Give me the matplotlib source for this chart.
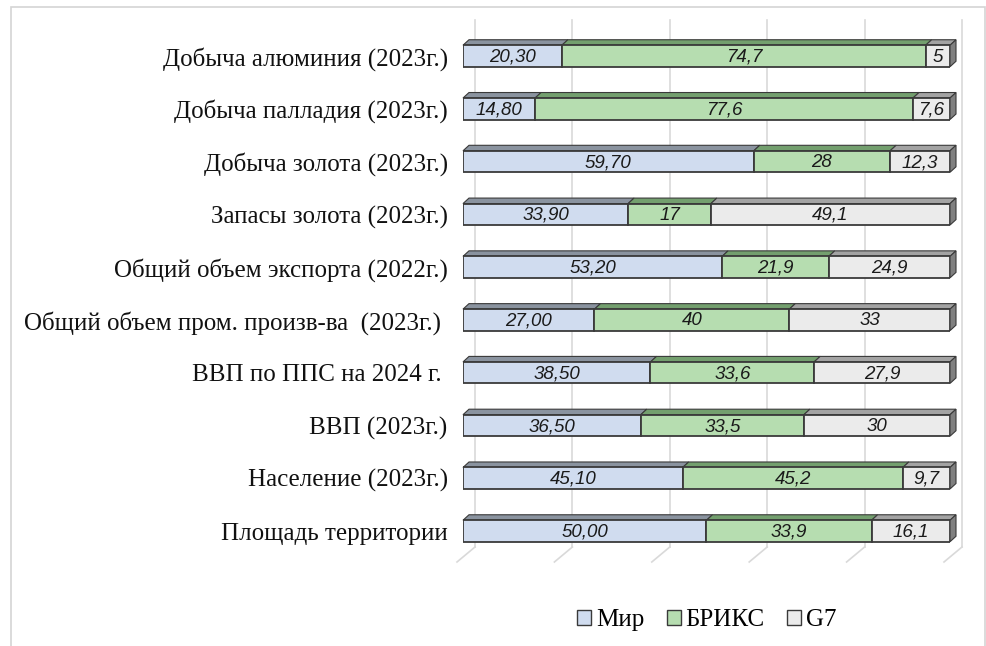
import matplotlib.pyplot as plt
from matplotlib.patches import Polygon, Rectangle, Patch

# data (shares, %)
categories = [
    "Добыча алюминия (2023г.)",
    "Добыча палладия (2023г.)",
    "Добыча золота (2023г.)",
    "Запасы золота (2023г.)",
    "Общий объем экспорта (2022г.)",
    "Общий объем пром. произв-ва  (2023г.) ",
    "ВВП по ППС на 2024 г. ",
    "ВВП (2023г.)",
    "Население (2023г.)",
    "Площадь территории",
]
mir = [20.30, 14.80, 59.70, 33.90, 53.20, 27.00, 38.50, 36.50, 45.10, 50.00]
brics = [74.7, 77.6, 28, 17, 21.9, 40, 33.6, 33.5, 45.2, 33.9]
g7 = [5, 7.6, 12.3, 49.1, 24.9, 33, 27.9, 30, 9.7, 16.1]
series_names = ["Мир", "БРИКС", "G7"]
ticks = [0, 20, 40, 60, 80, 100]

# colours: front face, top face, side face
faces = ["#d0dcef", "#b6ddb0", "#ebebeb"]
tops = ["#8a939f", "#739f6e", "#a3a3a3"]
sides = ["#6f7a88", "#5d8a58", "#808080"]
edge = "#3a3a3a"

W, H = 987, 646
fig = plt.figure(figsize=(W / 100, H / 100), dpi=100)

# outer frame
fig.patches.append(Rectangle((11 / W, -0.01), (985 - 11) / W, 1 - 7 / H + 0.01,
                             transform=fig.transFigure, fill=False,
                             edgecolor="#d4d4d4", linewidth=1.2))

# axes: x 0..100 -> px 463..950, rows centred at 56 + 52.8*i
x0, x1 = 463, 950
ytop, ybot = 56 - 26.4, 531 + 26.4
ax = fig.add_axes([x0 / W, 1 - ybot / H, (x1 - x0) / W, (ybot - ytop) / H])
ax.set_xlim(0, 100)
ax.set_ylim(len(categories) - 0.5, -0.5)
for s in ax.spines.values():
    s.set_visible(False)
ax.set_xticks([])

pxx = (x1 - x0) / 100.0
pxy = (ybot - ytop) / len(categories)
dx, dy = 6 / pxx, 5.5 / pxy          # bar depth
bh = 21.5 / pxy                       # bar face height

# wall & floor gridlines
back_dx, front_dx = 12 / pxx, -6 / pxx
y_wall_top = (20 - 56) / pxy
y_floor_back = (547 - 56) / pxy
y_floor_front = (562 - 56) / pxy
for t in ticks:
    ax.plot([t + back_dx, t + back_dx], [y_wall_top, y_floor_back],
            color="#d9d9d9", lw=1.2, zorder=0, clip_on=False)
    ax.plot([t + back_dx, t + front_dx], [y_floor_back, y_floor_front],
            color="#d9d9d9", lw=1.2, zorder=0, clip_on=False)

ypos = list(range(len(categories)))
lefts = [0] * len(categories)
for k, vals in enumerate([mir, brics, g7]):
    ax.barh(ypos, vals, left=lefts, height=bh, color=faces[k],
            edgecolor=edge, linewidth=1.3, zorder=3)
    for i, v in enumerate(vals):
        l, r = lefts[i], lefts[i] + v
        yt = i - bh / 2
        ax.add_patch(Polygon([(l, yt), (r, yt), (r + dx, yt - dy), (l + dx, yt - dy)],
                             closed=True, facecolor=tops[k], edgecolor=edge,
                             linewidth=0.8, zorder=2, clip_on=False))
        if k == 2:
            yb = i + bh / 2
            ax.add_patch(Polygon([(r, yt), (r + dx, yt - dy), (r + dx, yb - dy), (r, yb)],
                                 closed=True, facecolor=sides[k], edgecolor=edge,
                                 linewidth=0.8, zorder=2, clip_on=False))
        if k == 0:
            txt = f"{v:.2f}".replace(".", ",")
        else:
            txt = f"{v:g}".replace(".", ",")
        ax.text(l + v / 2, i + 0.02, txt, ha="center", va="center", fontsize=13.5,
                style="italic", family="Liberation Sans", color="#1a1a1a", zorder=5)
    lefts = [a + b for a, b in zip(lefts, vals)]

ax.set_yticks(ypos)
ax.set_yticklabels(categories, family="Liberation Serif", fontsize=18, color="#111111")
ax.tick_params(axis="y", length=0, pad=11)

handles = [Patch(facecolor=faces[k], edgecolor=edge, linewidth=1) for k in range(3)]
fig.legend(handles, series_names, loc="center", bbox_to_anchor=(707 / W, 1 - 620 / H),
           ncol=3, frameon=False, prop={"family": "Liberation Serif", "size": 18},
           handlelength=0.55, handleheight=0.55, handletextpad=0.2, columnspacing=0.9)

fig.savefig("out.png", dpi=100)
